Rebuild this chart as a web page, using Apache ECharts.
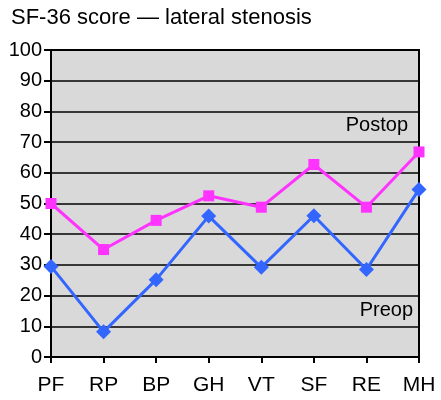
<!DOCTYPE html>
<html>
<head>
<meta charset="utf-8">
<script src="https://cdn.jsdelivr.net/npm/echarts@6/dist/echarts.min.js"></script>
<style>
  html, body { margin: 0; padding: 0; background: #fff; }
  #chart { width: 441px; height: 400px; }
</style>
</head>
<body>
<div id="chart"></div>
<script>
  var categories = ['PF', 'RP', 'BP', 'GH', 'VT', 'SF', 'RE', 'MH']
  var postop = [50, 35, 44.5, 52.5, 48.8, 62.7, 48.8, 66.8]
  var preop = [29.5, 8.2, 25.2, 45.9, 29.2, 46, 28.5, 54.6]

  var font = '"Liberation Sans", Arial, sans-serif'

  var myChart = echarts.init(document.getElementById('chart'))

  var option = {
    animation: false,
    title: {
      text: 'SF-36 score \u2014 lateral stenosis',
      left: 6,
      top: 2,
      textStyle: { fontFamily: font, fontSize: 22, fontWeight: 'normal', color: '#000' }
    },
    grid: {
      left: 51,
      right: 22,
      top: 50,
      bottom: 43,
      show: true,
      backgroundColor: '#d9d9d9',
      borderColor: '#000',
      borderWidth: 2
    },
    xAxis: {
      type: 'category',
      data: categories,
      boundaryGap: false,
      axisLine: { lineStyle: { color: '#000', width: 2 } },
      axisTick: { show: true, alignWithLabel: true, length: 6, lineStyle: { color: '#000', width: 2 } },
      axisLabel: { color: '#000', fontFamily: font, fontSize: 21, margin: 18 }
    },
    yAxis: {
      type: 'value',
      min: 0,
      max: 100,
      interval: 10,
      axisLine: { show: true, lineStyle: { color: '#000', width: 2 } },
      axisTick: { show: true, length: 7, lineStyle: { color: '#000', width: 2 } },
      axisLabel: { color: '#000', fontFamily: font, fontSize: 20, margin: 9 },
      splitLine: { show: true, lineStyle: { color: '#000', width: 1.5 } }
    },
    graphic: [
      {
        type: 'text', right: 33, top: 115,
        style: { text: 'Postop', fill: '#000', font: '20px ' + font }
      },
      {
        type: 'text', right: 28, top: 300,
        style: { text: 'Preop', fill: '#000', font: '20px ' + font }
      }
    ],
    series: [
      {
        name: 'Postop',
        type: 'line',
        data: postop,
        symbol: 'rect',
        symbolSize: 11,
        lineStyle: { color: '#ff33ff', width: 3 },
        itemStyle: { color: '#ff33ff' }
      },
      {
        name: 'Preop',
        type: 'line',
        data: preop,
        symbol: 'diamond',
        symbolSize: 15,
        lineStyle: { color: '#3366ff', width: 3 },
        itemStyle: { color: '#3366ff' }
      }
    ]
  }

  myChart.setOption(option)
</script>
</body>
</html>
